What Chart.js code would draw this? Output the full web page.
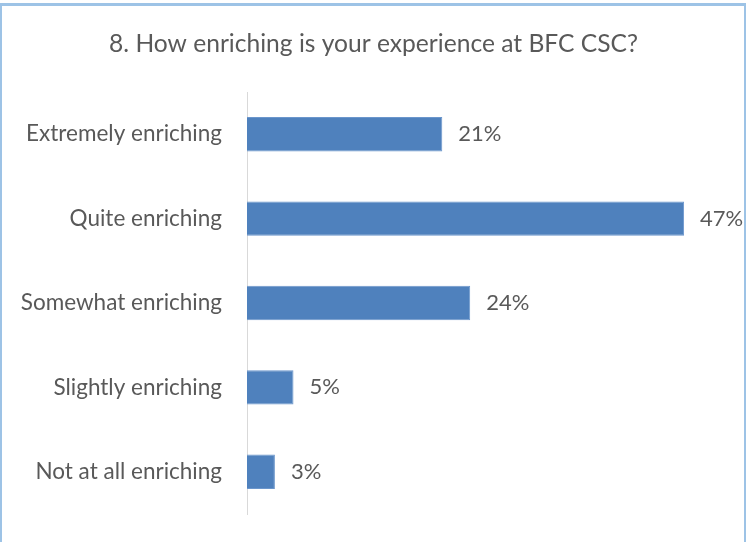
<!DOCTYPE html>
<html>
<head>
<meta charset="utf-8">
<script src="https://cdn.jsdelivr.net/npm/chart.js@4"></script>
<style>
  html, body { margin: 0; padding: 0; background: #fff; overflow: hidden; }
  #frame {
    position: absolute; left: 0; top: 3px; width: 746px; height: 560px;
    border: 2px solid #9DC3E6; border-top-width: 3px; box-sizing: border-box;
  }
  #wrap { position: absolute; left: 0; top: 0; width: 747px; height: 542px; }
</style>
</head>
<body>
<div id="frame"></div>
<div id="wrap"><canvas id="c" width="747" height="542"></canvas></div>
<script>
const titleText = '8. How enriching is your experience at BFC CSC?';
const categories = ['Extremely enriching', 'Quite enriching', 'Somewhat enriching', 'Slightly enriching', 'Not at all enriching'];
const percentages = [21, 47, 24, 5, 3];
const valueLabels = ['21%', '47%', '24%', '5%', '3%'];

const FONT = 'Lato, "Open Sans", sans-serif';
const TEXT = '#595959';

// Heading centred across the full canvas width
const chartHeading = {
  id: 'chartHeading',
  afterDraw(chart) {
    const ctx = chart.ctx;
    ctx.save();
    ctx.font = '24.6px ' + FONT;
    ctx.fillStyle = TEXT;
    ctx.textAlign = 'center';
    ctx.textBaseline = 'middle';
    ctx.fillText(titleText, chart.width / 2, 44.5);
    ctx.restore();
  }
};

// Writes each percentage just past the end of its bar
const barValueLabels = {
  id: 'barValueLabels',
  afterDatasetsDraw(chart) {
    const ctx = chart.ctx;
    const meta = chart.getDatasetMeta(0);
    ctx.save();
    ctx.font = '22px ' + FONT;
    ctx.fillStyle = TEXT;
    ctx.textAlign = 'left';
    ctx.textBaseline = 'middle';
    meta.data.forEach((bar, i) => {
      ctx.fillText(valueLabels[i], bar.x + 16, bar.y);
    });
    ctx.restore();
  }
};

new Chart(document.getElementById('c'), {
  type: 'bar',
  data: {
    labels: categories,
    datasets: [{
      data: percentages,
      backgroundColor: '#4F81BD',
      borderColor: '#6B96CC',
      borderWidth: 1,
      barPercentage: 0.8,
      categoryPercentage: 0.51
    }]
  },
  options: {
    indexAxis: 'y',
    responsive: false,
    animation: false,
    layout: { padding: { left: 0, right: 35, top: 92, bottom: 28 } },
    plugins: {
      legend: { display: false },
      tooltip: { enabled: false },
      title: { display: false }
    },
    scales: {
      x: {
        display: false,
        min: 0,
        max: 50
      },
      y: {
        grid: { display: false, drawTicks: false, tickLength: 0 },
        border: { display: true, color: '#D9D9D9', width: 1 },
        ticks: {
          color: TEXT,
          padding: 25,
          font: { family: FONT, size: 22.5 }
        },
        afterFit(scale) {
          scale.width = 247;
          // category labels sit inside their bands, so no overhang room is needed
          scale.paddingTop = 0;
          scale.paddingBottom = 0;
        }
      }
    }
  },
  plugins: [barValueLabels, chartHeading]
});
</script>
</body>
</html>
